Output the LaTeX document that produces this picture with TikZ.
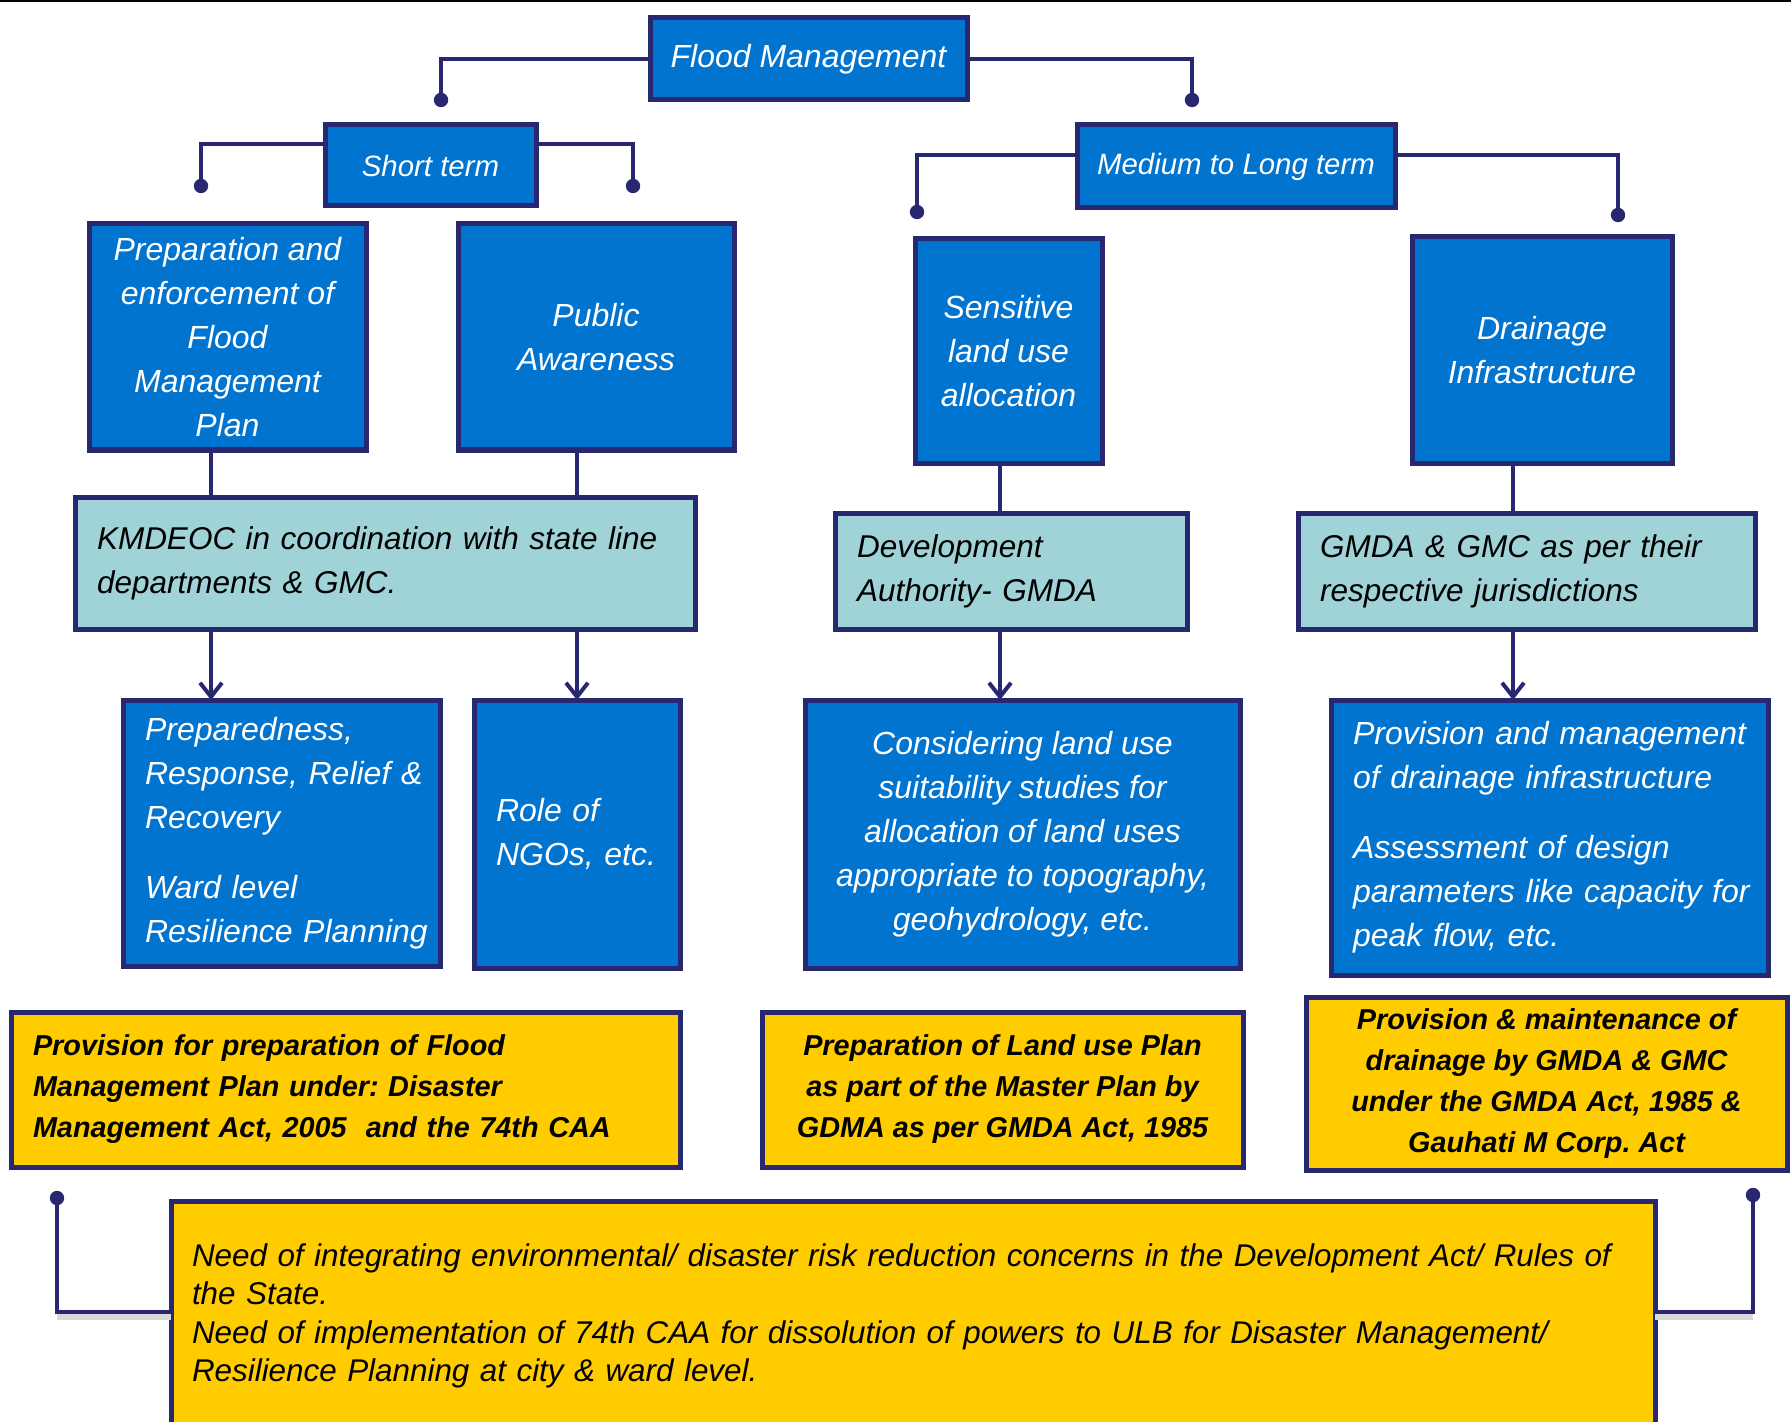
\documentclass[tikz,border=0pt]{standalone}
\usepackage{fontspec}
\setmainfont{Liberation Sans}
\usetikzlibrary{arrows.meta}
\definecolor{cBlue}{RGB}{0,116,207}
\definecolor{cNavy}{RGB}{40,40,112}
\definecolor{cTeal}{RGB}{160,211,216}
\definecolor{cYellow}{RGB}{255,204,0}
\frenchspacing
\begin{document}
\begin{tikzpicture}[x=0.5pt,y=-0.5pt,
  base/.style={draw=cNavy, line width=2.5pt, inner sep=0pt, outer sep=0pt},
  bbox/.style={base, fill=cBlue, text=white, font=\fontsize{16}{22}\selectfont\itshape},
  tbox/.style={base, fill=cTeal, text=black, font=\fontsize{15.75}{22}\selectfont\itshape},
  ybox/.style={base, fill=cYellow, text=black, font=\fontsize{14.4}{20.5}\selectfont\bfseries\itshape},
  lefttext/.style={align=left, inner xsep=11pt, text width=#1},
  conn/.style={draw=cNavy, line width=2pt},
  arr/.style={conn, -{Straight Barb[length=7pt,width=11pt]}},
  shadowline/.style={draw=black!15, line width=3pt}
]
\clip (0,0) rectangle (1791,1422);
\fill[white] (0,0) rectangle (1791,1422);
\draw[black, line width=1pt] (0,1) -- (1791,1);

% top level
\node[bbox, minimum width=158.5pt, minimum height=41pt, align=center] (fm) at (808.5,59) {Flood Management};
\node[bbox, font=\fontsize{14.7}{20}\selectfont\itshape, minimum width=105.5pt, minimum height=40.5pt, align=center] (st) at (430.5,165.5) {Short term};
\node[bbox, font=\fontsize{14.7}{20}\selectfont\itshape, minimum width=159pt, minimum height=41.5pt, align=center] (ml) at (1236,166.5) {Medium to Long term};

% second level
\node[bbox, minimum width=138.5pt, minimum height=113pt, align=center] (prep) at (227.5,337)
  {Preparation and\\enforcement of\\Flood\\Management\\Plan};
\node[bbox, minimum width=138pt, minimum height=113pt, align=center] (pa) at (596,337)
  {Public\\Awareness};
\node[bbox, minimum width=93.5pt, minimum height=112pt, align=center] (sla) at (1008.5,351)
  {Sensitive\\land use\\allocation};
\node[bbox, minimum width=130pt, minimum height=113pt, align=center] (dr) at (1542,350)
  {Drainage\\Infrastructure};

% teal level
\node[tbox, lefttext=288pt, minimum width=310pt, minimum height=66pt] (km) at (385,563)
  {\mbox{KMDEOC in coordination with state line}\\\mbox{departments \& GMC.}};
\node[tbox, lefttext=154pt, minimum width=176pt, minimum height=58pt] (dev) at (1011,571)
  {\mbox{Development}\\\mbox{Authority- GMDA}};
\node[tbox, lefttext=206.5pt, minimum width=228.5pt, minimum height=58pt] (gm) at (1526.5,571)
  {\mbox{GMDA \& GMC as per their}\\\mbox{respective jurisdictions}};

% detail level
\node[bbox, lefttext=136.5pt, minimum width=158.5pt, minimum height=133pt] (prd) at (281.5,833)
  {\mbox{Preparedness,}\\\mbox{Response, Relief \&}\\\mbox{Recovery}\\[13pt]\mbox{Ward level}\\\mbox{Resilience Planning}};
\node[bbox, lefttext=81pt, minimum width=103pt, minimum height=134pt] (ngo) at (577,834)
  {\mbox{Role of}\\\mbox{NGOs, etc.}};
\node[bbox, minimum width=217.5pt, minimum height=134pt, align=center] (cons) at (1022.5,834)
  {Considering land use\\suitability studies for\\allocation of land uses\\appropriate to topography,\\geohydrology, etc.};
\node[bbox, lefttext=196.5pt, minimum width=218.5pt, minimum height=137.5pt] (prov) at (1549.5,837.5)
  {\mbox{Provision and management}\\\mbox{of drainage infrastructure}\\[13pt]\mbox{Assessment of design}\\\mbox{parameters like capacity for}\\\mbox{peak flow, etc.}};

% yellow level
\node[ybox, lefttext=312.5pt, minimum width=334.5pt, minimum height=77.5pt] (y1) at (345.5,1089.5)
  {\mbox{Provision for preparation of Flood}\\\mbox{Management Plan under: Disaster}\\\mbox{Management Act, 2005~ and the 74th CAA}};
\node[ybox, minimum width=240.5pt, minimum height=77.5pt, align=center] (y2) at (1002.5,1089.5)
  {Preparation of Land use Plan\\as part of the Master Plan by\\GDMA as per GMDA Act, 1985};
\node[ybox, minimum width=240.5pt, minimum height=86.5pt, align=center] (y3) at (1546.5,1083.5)
  {Provision \& maintenance of\\drainage by GMDA \& GMC\\under the GMDA Act, 1985 \&\\Gauhati M Corp. Act};

\node[base, fill=cYellow, text=black, font=\fontsize{15.7}{19.2}\selectfont\itshape,
  align=left, inner xsep=10.5pt, text width=721pt, minimum width=742pt, minimum height=115pt] (bot) at (913,1316)
  {\mbox{Need of integrating environmental/ disaster risk reduction concerns in the Development Act/ Rules of}\\
   \mbox{the State.}\\
   \mbox{Need of implementation of 74th CAA for dissolution of powers to ULB for Disaster Management/}\\
   \mbox{Resilience Planning at city \& ward level.}};

% connector coordinates
\coordinate (d1) at (441,100);
\coordinate (d4) at (1192,100);
\coordinate (h2) at (0,144);
\coordinate (d2) at (201,186);
\coordinate (d3) at (633,186);
\coordinate (h3) at (0,155);
\coordinate (d5) at (917,212);
\coordinate (d6) at (1618,215);
\coordinate (v1) at (211,0);
\coordinate (v2) at (577,0);
\coordinate (v3) at (1000,0);
\coordinate (v4) at (1513,0);
\coordinate (d7) at (57,1198);
\coordinate (d8) at (1753,1195);
\coordinate (h4) at (0,1312);
\coordinate (h5) at (0,1317);

% connectors
\draw[conn] (fm.west) -| (d1);
\draw[conn] (fm.east) -| (d4);
\draw[conn] (st.west |- h2) -| (d2);
\draw[conn] (st.east |- h2) -| (d3);
\draw[conn] (ml.west |- h3) -| (d5);
\draw[conn] (ml.east |- h3) -| (d6);
\foreach \d in {d1,d2,d3,d4,d5,d6,d7,d8} \fill[cNavy] (\d) circle (3.6pt);

\draw[conn] (prep.south -| v1) -- (km.north -| v1);
\draw[conn] (pa.south -| v2) -- (km.north -| v2);
\draw[conn] (sla.south -| v3) -- (dev.north -| v3);
\draw[conn] (dr.south -| v4) -- (gm.north -| v4);

\draw[arr] (km.south -| v1) -- (prd.north -| v1);
\draw[arr] (km.south -| v2) -- (ngo.north -| v2);
\draw[arr] (dev.south -| v3) -- (cons.north -| v3);
\draw[arr] (gm.south -| v4) -- (prov.north -| v4);

\draw[shadowline] (d7 |- h5) -- (bot.west |- h5);
\draw[shadowline] (d8 |- h5) -- (bot.east |- h5);
\draw[conn] (d7) |- (bot.west |- h4);
\draw[conn] (d8) |- (bot.east |- h4);
\end{tikzpicture}
\end{document}
